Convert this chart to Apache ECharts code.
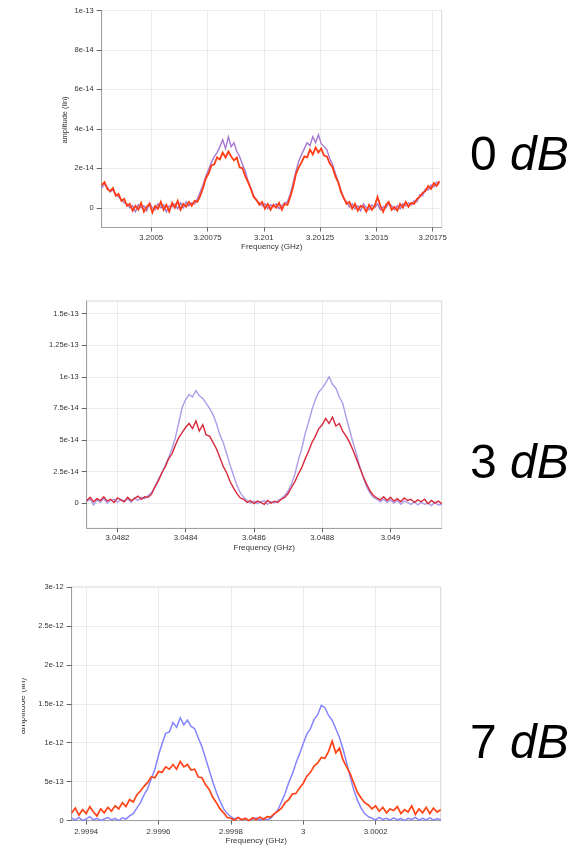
<!DOCTYPE html>
<html>
<head>
<meta charset="utf-8">
<script src="https://cdn.jsdelivr.net/npm/echarts@6/dist/echarts.min.js"></script>
<style>
  html, body { margin: 0; padding: 0; background: #ffffff; }
  #chart { width: 583px; height: 846px; }
</style>
</head>
<body>
<div id="chart"></div>
<script>
// Spectrum sweeps of the two-tone comb at three attenuation settings.
// Each sweep is evenly spaced: first frequency and step in GHz.
const sweep0dB = { start: 3.20028, step: 1.25e-5 };
const sweep3dB = { start: 3.04811, step: 1e-5 };
const sweep7dB = { start: 2.99936, step: 1e-5 };

// Amplitude readings (linear), in units of 1e-14 for 0 dB / 3 dB and 1e-13 for 7 dB
const unit0dB = 1e-14;
const unit3dB = 1e-14;
const unit7dB = 1e-13;

const amp0dBViolet = [
  1.0, 1.2, 1.05, 0.8, 0.9, 0.7, 0.55, 0.4, 0.25, 0.2,
  0.0, 0.1, -0.2, 0.15, 0.0, 0.1, -0.15, 0.25, 0.0, -0.1,
  0.2, 0.0, 0.15, -0.2, 0.1, 0.05, 0.2, -0.05, 0.25, 0.0,
  0.3, 0.1, 0.25, 0.2, 0.45, 0.8, 1.15, 1.6, 1.95, 2.3,
  2.6, 2.8, 3.1, 3.45, 3.0, 3.6, 3.1, 3.3, 2.85, 2.6,
  2.2, 1.85, 1.35, 1.0, 0.6, 0.35, 0.25, 0.1, 0.2, -0.05,
  0.15, 0.05, 0.2, -0.05, 0.1, 0.25, 0.3, 0.7, 1.25, 1.85,
  2.35, 2.7, 3.0, 3.3, 3.15, 3.6, 3.3, 3.7, 3.25, 3.1,
  2.95, 2.5, 2.2, 1.75, 1.35, 0.9, 0.45, 0.3, 0.05, 0.2,
  -0.05, 0.1, -0.15, 0.2, 0.0, -0.1, 0.15, 0.0, 0.2, -0.1,
  0.05, 0.0, 0.2, 0.1, -0.1, 0.1, -0.05, 0.2, 0.1, 0.25,
  0.15, 0.35, 0.3, 0.65, 0.6, 0.95, 0.9, 1.15, 1.05, 1.3, 1.2
];
const amp0dBRed = [
  1.15, 1.3, 0.95, 0.85, 1.0, 0.6, 0.7, 0.35, 0.45, 0.1,
  0.2, -0.15, 0.1, -0.1, 0.25, -0.2, 0.05, 0.2, -0.25, 0.1,
  -0.05, 0.3, -0.1, 0.15, -0.2, 0.25, 0.0, 0.35, -0.1, 0.2,
  0.05, 0.3, 0.1, 0.35, 0.3, 0.6, 1.0, 1.5, 1.75, 2.15,
  2.2, 2.55, 2.45, 2.8, 2.55, 2.85, 2.6, 2.4, 2.55, 2.05,
  2.0, 1.6, 1.3, 0.95, 0.55, 0.4, 0.15, 0.3, -0.05, 0.2,
  -0.1, 0.15, 0.0, 0.25, -0.1, 0.2, 0.15, 0.55, 1.05, 1.7,
  2.05, 2.3, 2.6, 2.55, 2.95, 2.7, 3.05, 2.8, 3.0, 2.65,
  2.6, 2.25, 2.05, 1.6, 1.3, 0.8, 0.5, 0.2, 0.3, -0.05,
  0.2, -0.15, 0.1, 0.05, -0.2, 0.15, -0.1, 0.1, 0.55, 0.1,
  -0.2, 0.15, 0.3, -0.1, 0.05, -0.15, 0.2, 0.0, 0.3, 0.05,
  0.25, 0.2, 0.45, 0.55, 0.75, 0.85, 1.1, 0.95, 1.25, 1.1, 1.35
];

const amp3dBViolet = [
  0.1, 0.3, -0.15, 0.25, 0.05, 0.35, 0.0, 0.2, 0.3, 0.05,
  0.3, 0.15, 0.35, 0.05, 0.4, 0.2, 0.45, 0.35, 0.6, 0.85,
  1.25, 1.9, 2.35, 3.0, 3.6, 4.3, 5.2, 6.4, 7.6, 8.2,
  8.6, 8.4, 8.9, 8.5, 8.3, 7.9, 7.5, 7.0, 6.3, 5.4,
  4.8, 3.9, 3.0, 2.2, 1.4, 0.8, 0.45, 0.2, 0.0, 0.15,
  -0.05, 0.1, 0.2, -0.1, 0.1, 0.0, 0.2, 0.35, 0.6, 0.95,
  1.5, 2.3, 3.4, 4.3, 5.5, 6.4, 7.4, 8.2, 8.8, 9.1,
  9.5, 10.0, 9.4, 9.1, 8.4, 7.9, 6.8, 5.8, 4.8, 3.9,
  2.9, 2.0, 1.3, 0.8, 0.45, 0.3, 0.1, 0.3, 0.05, 0.25,
  0.0, 0.2, -0.1, 0.15, 0.05, -0.1, 0.1, -0.15, 0.05, -0.1,
  0.0, -0.2, 0.05, -0.15, -0.1
];
const amp3dBRed = [
  0.2, 0.45, 0.1, 0.35, 0.2, 0.5, 0.15, 0.3, 0.05, 0.4,
  0.25, 0.1, 0.45, 0.2, 0.35, 0.55, 0.3, 0.5, 0.45, 0.7,
  1.3, 1.75, 2.4, 2.85, 3.5, 3.9, 4.6, 5.2, 5.6, 6.0,
  6.3, 5.9, 6.5, 5.7, 6.2, 5.4, 5.3, 4.8, 4.3, 3.6,
  2.9, 2.4, 1.7, 1.2, 0.75, 0.4, 0.3, 0.05, 0.2, -0.05,
  0.15, 0.05, -0.1, 0.2, 0.0, 0.15, 0.05, 0.3, 0.45, 0.75,
  1.25, 1.7, 2.3, 2.8, 3.5, 4.1, 4.8, 5.3, 5.9, 6.2,
  6.7, 6.3, 6.8, 6.1, 6.3, 5.7, 5.3, 4.8, 4.2, 3.5,
  2.8, 2.1, 1.5, 0.95, 0.6, 0.4, 0.25, 0.5, 0.2, 0.45,
  0.15, 0.35, 0.1, 0.4, 0.2, 0.3, 0.05, 0.25, 0.1, 0.3,
  -0.05, 0.2, 0.0, 0.15, -0.05
];

const amp7dBBlue = [
  0.3, 0.1, 0.4, 0.0, 0.2, 0.5, 0.1, 0.3, 0.0, 0.2,
  0.4, 0.1, 0.3, 0.0, 0.35, 0.2, 0.6, 0.9, 1.6, 2.3,
  3.3, 4.1, 5.4, 6.6, 8.4, 9.9, 11.2, 11.4, 12.6, 12.0,
  13.2, 12.3, 12.9, 12.1, 11.8, 10.6, 9.5, 8.0, 6.5, 5.0,
  3.6, 2.5, 1.5, 0.9, 0.5, 0.2, 0.4, 0.05, 0.25, 0.0,
  0.2, 0.35, 0.05, 0.3, 0.1, 0.3, 0.8, 1.4, 2.4, 3.5,
  4.9, 6.0, 7.4, 8.6, 9.9, 11.1, 11.8, 13.0, 13.6, 14.8,
  14.5, 13.5, 12.9, 11.8, 10.7, 9.2, 7.4, 5.6, 3.9, 2.6,
  1.6, 0.9, 0.5, 0.3, 0.1, 0.4, 0.15, 0.3, 0.05, 0.35,
  0.1, 0.25, 0.0, 0.3, 0.15, 0.4, 0.05, 0.3, 0.1, 0.35,
  0.05, 0.25, 0.1
];
const amp7dBRed = [
  1.0, 1.6, 0.7, 1.4, 0.9, 1.8, 1.1, 0.6, 1.5, 1.0,
  1.7, 1.2, 1.9, 1.5, 2.3, 1.8, 2.7, 2.4, 3.3, 3.8,
  4.4, 4.9, 5.6, 5.5, 6.3, 6.2, 6.9, 6.6, 7.2, 6.6,
  7.6, 6.9, 7.2, 6.5, 6.6, 5.6, 5.5, 4.6, 4.0, 3.0,
  2.3, 1.5, 1.0, 0.4, 0.3, 0.05, 0.4, 0.1, 0.3, 0.0,
  0.35, 0.1, 0.45, 0.15, 0.5, 0.45, 0.9, 1.2, 1.6, 2.3,
  2.7, 3.4, 3.5, 4.2, 4.8, 5.7, 6.2, 7.0, 7.4, 8.1,
  8.0, 8.9, 10.2, 8.7, 9.3, 7.8, 6.9, 6.0, 4.8, 3.6,
  2.9, 2.3, 2.0, 1.5, 1.9, 1.2, 1.7, 1.0, 1.5, 1.3,
  1.8, 0.9, 1.4, 1.1, 1.9, 0.8, 1.5, 1.0, 1.7, 0.9,
  1.6, 1.1, 1.4
];

// Axis ticks
const xTicks0dB = [3.2005, 3.20075, 3.201, 3.20125, 3.2015, 3.20175];
const xTicks3dB = [3.0482, 3.0484, 3.0486, 3.0488, 3.049];
const xTicks7dB = [2.9994, 2.9996, 2.9998, 3, 3.0002];
const yTicks0dB = [0, 2e-14, 4e-14, 6e-14, 8e-14, 1e-13];
const yTicks3dB = [0, 2.5e-14, 5e-14, 7.5e-14, 1e-13, 1.25e-13, 1.5e-13];
const yTicks7dB = [0, 5e-13, 1e-12, 1.5e-12, 2e-12, 2.5e-12, 3e-12];

// Attenuation captions beside each panel
const captions = [
  { level: '0', y: 157 },
  { level: '3', y: 465 },
  { level: '7', y: 745 }
];

const FONT = '"Liberation Sans", Arial, sans-serif';

function toPoints(sweep, values, unit) {
  return values.map((v, i) => [sweep.start + i * sweep.step, v * unit]);
}

function expLabel(v) {
  if (v === 0) return '0';
  return Number(v.toPrecision(6)).toExponential();
}

function xAxisFor(gridIndex, min, max, ticks, labelMargin, nameGap) {
  return {
    type: 'value', gridIndex, min, max, scale: true,
    name: 'Frequency (GHz)', nameLocation: 'middle', nameGap,
    nameTextStyle: { fontSize: 8, color: '#333', fontFamily: FONT },
    axisLine: { show: true, onZero: false, lineStyle: { color: '#a0a0a0', width: 1 } },
    axisTick: { show: true, length: 4, customValues: ticks, lineStyle: { color: '#666' } },
    axisLabel: {
      customValues: ticks, fontSize: 7.8, color: '#333', fontFamily: FONT,
      margin: labelMargin, formatter: v => String(Number(v.toPrecision(8)))
    },
    splitLine: { show: true, lineStyle: { color: '#ebebeb', width: 1 } }
  };
}

function yAxisFor(gridIndex, min, max, ticks) {
  return {
    type: 'value', gridIndex, min, max,
    axisLine: { show: true, onZero: false, lineStyle: { color: '#a0a0a0', width: 1 } },
    axisTick: { show: true, length: 5, customValues: ticks, lineStyle: { color: '#666' } },
    axisLabel: {
      customValues: ticks, fontSize: 7.5, color: '#333', fontFamily: FONT,
      margin: 8, formatter: expLabel
    },
    splitLine: { show: true, lineStyle: { color: '#ebebeb', width: 1 } }
  };
}

function trace(idx, data, color, width) {
  return {
    type: 'line', xAxisIndex: idx, yAxisIndex: idx, data,
    showSymbol: false, symbol: 'none', smooth: false,
    lineStyle: { color, width, join: 'miter' }, silent: true, animation: false
  };
}

const gridStyle = { show: true, borderColor: '#d6d6d6', borderWidth: 1, backgroundColor: 'transparent' };

const chart = echarts.init(document.getElementById('chart'), null, { renderer: 'canvas' });

const graphics = [
  {
    type: 'text', x: 65, y: 120, rotation: Math.PI / 2,
    style: { text: 'amplitude (lin)', fill: '#333', font: '7.5px ' + FONT, align: 'center', verticalAlign: 'middle' }
  },
  {
    type: 'text', x: 23, y: 706, rotation: Math.PI / 2,
    style: { text: 'amplitude (lin)', fill: '#444', font: '9px ' + FONT, align: 'center', verticalAlign: 'middle' }
  },
  // the left part of this label is cut off on the slide
  { type: 'rect', shape: { x: 0, y: 660, width: 22, height: 90 }, style: { fill: '#ffffff' }, z: 200 }
];
captions.forEach(c => {
  graphics.push({
    type: 'text', x: 470, y: c.y,
    style: {
      text: '{n|' + c.level + '} {i|dB}',
      verticalAlign: 'middle', align: 'left',
      rich: {
        n: { fontSize: 48, fontFamily: FONT, fill: '#000', color: '#000' },
        i: { fontSize: 48, fontFamily: FONT, fontStyle: 'italic', fill: '#000', color: '#000' }
      },
      fill: '#000', font: '48px ' + FONT
    }
  });
});

chart.setOption({
  animation: false,
  backgroundColor: '#ffffff',
  grid: [
    Object.assign({ left: 101.7, top: 10.5, width: 340, height: 217 }, gridStyle),
    Object.assign({ left: 86.7, top: 301, width: 355, height: 227.3 }, gridStyle),
    Object.assign({ left: 71.7, top: 587, width: 369, height: 235.3 }, gridStyle)
  ],
  xAxis: [
    xAxisFor(0, 3.20028, 3.20179, xTicks0dB, 6, 14),
    xAxisFor(1, 3.04811, 3.04915, xTicks3dB, 5.5, 15),
    xAxisFor(2, 2.99936, 3.00038, xTicks7dB, 7.5, 15)
  ],
  yAxis: [
    yAxisFor(0, -1e-14, 1e-13, yTicks0dB),
    yAxisFor(1, -2e-14, 1.6e-13, yTicks3dB),
    yAxisFor(2, 0, 3e-12, yTicks7dB)
  ],
  series: [
    trace(0, toPoints(sweep0dB, amp0dBViolet, unit0dB), '#a578cf', 1.4),
    trace(0, toPoints(sweep0dB, amp0dBRed, unit0dB), '#ff3c14', 1.8),
    trace(1, toPoints(sweep3dB, amp3dBViolet, unit3dB), '#ab9ce8', 1.4),
    trace(1, toPoints(sweep3dB, amp3dBRed, unit3dB), '#d62a3c', 1.4),
    trace(2, toPoints(sweep7dB, amp7dBBlue, unit7dB), '#8585ff', 1.5),
    trace(2, toPoints(sweep7dB, amp7dBRed, unit7dB), '#ff4418', 1.7)
  ],
  graphic: graphics
});
</script>
</body>
</html>
